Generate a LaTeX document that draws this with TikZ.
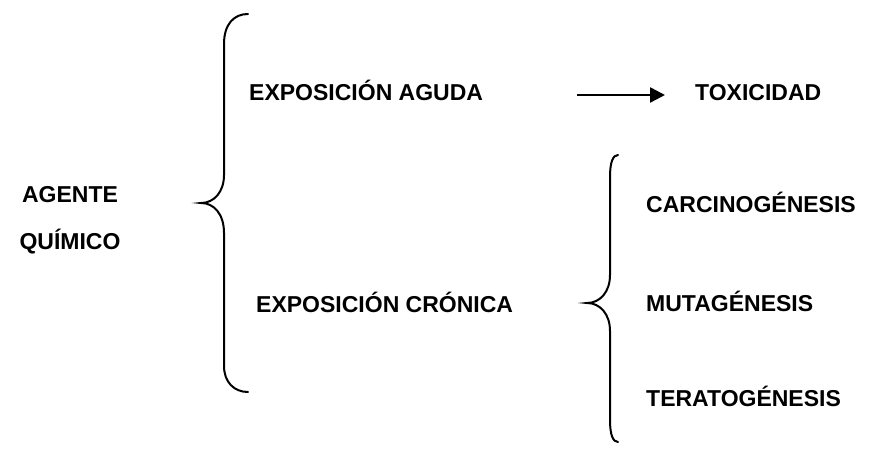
\documentclass[tikz,border=0pt]{standalone}
\usepackage{fontspec}
\setmainfont{Liberation Sans}
\usetikzlibrary{arrows.meta}
\tikzset{
  lbl/.style={font=\bfseries\fontsize{23}{27}\selectfont, inner sep=0pt, anchor=base west},
  brace/.style={line width=2pt, line cap=round}
}
\begin{document}
\begin{tikzpicture}[x=1pt, y=-1pt]
    \useasboundingbox (0, 0) rectangle (888, 457);

    % first brace
    \draw[brace] (248, 14) .. controls (234, 14) and (224, 24) .. (224, 44)
      -- (224, 175) .. controls (224, 192) and (214, 203) .. (201, 203)
      .. controls (214, 203) and (224, 214) .. (224, 233)
      -- (224, 366) .. controls (224, 382) and (234, 392) .. (248, 392);

    % second brace
    \draw[brace] (618, 155) .. controls (613, 155) and (610, 162) .. (610, 177)
      -- (610, 275) .. controls (610, 292) and (600, 303) .. (587, 303)
      .. controls (600, 303) and (610, 314) .. (610, 331)
      -- (610, 420) .. controls (610, 435) and (613, 442) .. (618, 442);

    \node[lbl, anchor=base] (agente) at (70, 203) {AGENTE};
    \node[lbl, anchor=base] (quimico) at (70, 249) {QUÍMICO};

    \node[lbl] (aguda) at (249, 101) {EXPOSICIÓN AGUDA};
    \node[lbl] (toxicidad) at (695, 101) {TOXICIDAD};
    \node[lbl] (cronica) at (256, 312) {EXPOSICIÓN CRÓNICA};

    \node[lbl] (carcino) at (646, 212) {CARCINOGÉNESIS};
    \node[lbl] (muta) at (646, 311) {MUTAGÉNESIS};
    \node[lbl] (terato) at (646, 406) {TERATOGÉNESIS};

    \coordinate (a1) at (577, 95);
    \coordinate (a2) at (665, 95);
    \draw[line width=2.5pt, -{Triangle[length=15pt, width=15pt]}] (a1) -- (a2);
\end{tikzpicture}
\end{document}
